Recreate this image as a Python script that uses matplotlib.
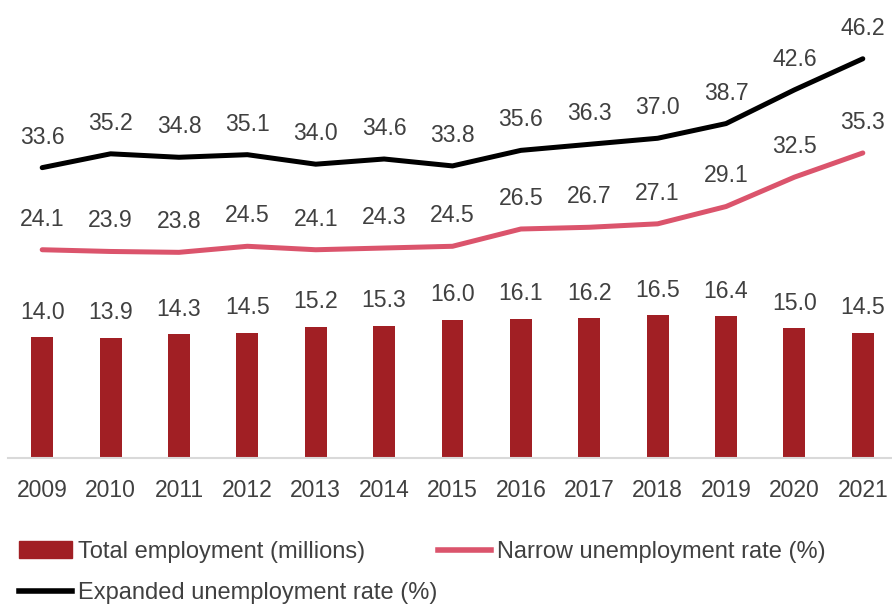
import matplotlib
matplotlib.use("Agg")
import matplotlib.pyplot as plt
from matplotlib.lines import Line2D
from matplotlib.patches import Patch

years = ["2009", "2010", "2011", "2012", "2013", "2014", "2015",
         "2016", "2017", "2018", "2019", "2020", "2021"]
employment = [14.0, 13.9, 14.3, 14.5, 15.2, 15.3, 16.0, 16.1, 16.2, 16.5, 16.4, 15.0, 14.5]
narrow = [24.1, 23.9, 23.8, 24.5, 24.1, 24.3, 24.5, 26.5, 26.7, 27.1, 29.1, 32.5, 35.3]
expanded = [33.6, 35.2, 34.8, 35.1, 34.0, 34.6, 33.8, 35.6, 36.3, 37.0, 38.7, 42.6, 46.2]

plt.rcParams['font.family'] = ['Liberation Sans', 'DejaVu Sans']
BAR = '#A11F24'
PINK = '#DB546C'
TXT = '#404040'
FS = 16.6

fig = plt.figure(figsize=(8.92, 6.06), dpi=100)
ax = fig.add_axes([8/892, 148/606, 889/892, 458/606])
x = list(range(len(years)))
ax.bar(x, employment, width=0.32, color=BAR, zorder=2)
ax.plot(x, narrow, color=PINK, lw=3.6, solid_capstyle='round', zorder=3)
ax.plot(x, expanded, color='black', lw=3.6, solid_capstyle='round', zorder=3)

for i in x:
    ax.annotate(f"{employment[i]:.1f}", (i, employment[i]), xytext=(0, 18),
                textcoords='offset points', ha='center', va='center', fontsize=FS, color=TXT)
    ax.annotate(f"{narrow[i]:.1f}", (i, narrow[i]), xytext=(0, 22),
                textcoords='offset points', ha='center', va='center', fontsize=FS, color=TXT)
    ax.annotate(f"{expanded[i]:.1f}", (i, expanded[i]), xytext=(0, 22),
                textcoords='offset points', ha='center', va='center', fontsize=FS, color=TXT)

ax.set_xlim(-0.5, len(years) - 0.5)
ax.set_ylim(0, 53)
ax.set_xticks(x)
ax.set_xticklabels(years, fontsize=16.5, color=TXT)
ax.tick_params(axis='x', length=0, pad=15)
ax.set_yticks([])
for s in ['top', 'right', 'left']:
    ax.spines[s].set_visible(False)
ax.spines['bottom'].set_color('#D9D9D9')
ax.spines['bottom'].set_linewidth(1.5)

handles = [Patch(color=BAR), Line2D([], [], color=PINK, lw=4.0),
           Line2D([], [], color='black', lw=4.0)]
labels = ["Total employment (millions)", "Narrow unemployment rate (%)",
          "Expanded unemployment rate (%)"]
leg_font = {'family': ['Liberation Sans'], 'size': 17}
fig.legend(handles[:2], labels[:2], loc='center left', bbox_to_anchor=(19/892, 1 - 552/606),
           ncol=2, frameon=False, prop=leg_font, handlelength=2.25, handletextpad=0.25,
           columnspacing=3.1, labelcolor=TXT, borderaxespad=0, borderpad=0)
fig.legend(handles[2:], labels[2:], loc='center left', bbox_to_anchor=(19/892, 1 - 593/606),
           frameon=False, prop=leg_font, handlelength=2.25, handletextpad=0.25,
           labelcolor=TXT, borderaxespad=0, borderpad=0)

fig.savefig("out.png", dpi=100)
